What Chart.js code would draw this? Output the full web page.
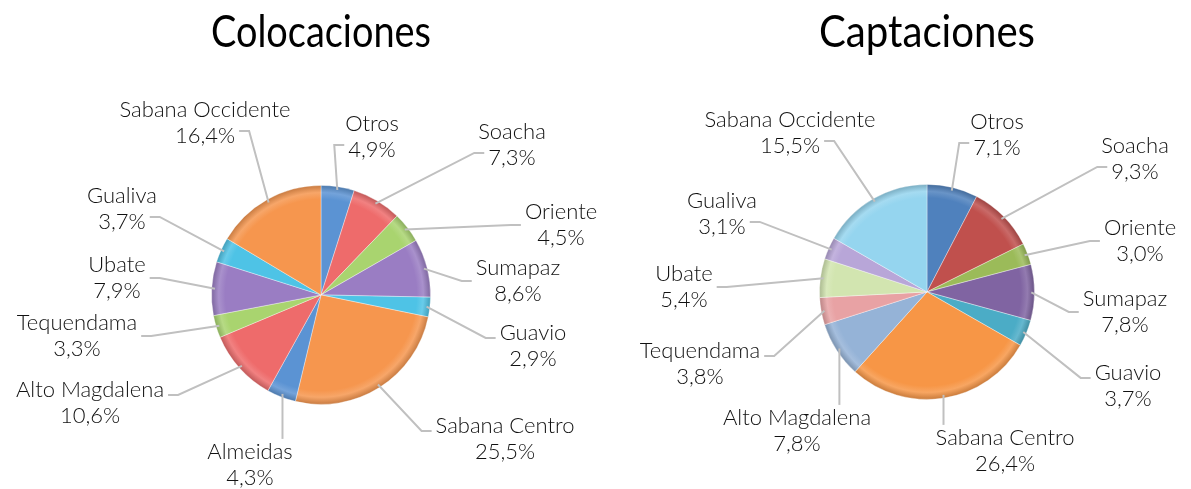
<!DOCTYPE html>
<html>
<head>
<meta charset="utf-8">
<script src="https://cdn.jsdelivr.net/npm/chart.js@4"></script>
<style>
  body { margin: 0; background: #fff; }
  #wrap { position: relative; width: 1191px; height: 489px; }
  canvas { position: absolute; top: 0; }
  #colChart { left: 0; }
  #capChart { left: 600px; }
</style>
</head>
<body>
<div id="wrap">
  <canvas id="colChart" width="600" height="489"></canvas>
  <canvas id="capChart" width="591" height="489"></canvas>
</div>
<script>
// Colocaciones
const colNames = ['Otros', 'Soacha', 'Oriente', 'Sumapaz', 'Guavio', 'Sabana Centro', 'Almeidas',
    'Alto Magdalena', 'Tequendama', 'Ubate', 'Gualiva', 'Sabana Occidente'];
const colValues = [4.9, 7.3, 4.5, 8.6, 2.9, 25.5, 4.3, 10.6, 3.3, 7.9, 3.7, 16.4];

// Captaciones
const capNames = ['Otros', 'Soacha', 'Oriente', 'Sumapaz', 'Guavio', 'Sabana Centro',
    'Alto Magdalena', 'Tequendama', 'Ubate', 'Gualiva', 'Sabana Occidente'];
const capValues = [7.1, 9.3, 3.0, 7.8, 3.7, 26.4, 7.8, 3.8, 5.4, 3.1, 15.5];

// Slice colours
const colColors = ['#5b93d3', '#ee6b6b', '#a9d46f', '#9a7dc3', '#4ec3e6', '#f6964e',
    '#5b93d3', '#ee6b6b', '#a9d46f', '#9a7dc3', '#4ec3e6', '#f6964e'];
const capColors = ['#4f81bd', '#c0504d', '#9bbb59', '#8064a2', '#4bacc6', '#f79646',
    '#95b3d7', '#e8a2a4', '#d2e5b0', '#b8a6d8', '#95d5ef'];

// Label block centres, relative to the pie centre
const colLabelOffsets = [[51, -158], [191, -150], [240, -70], [197, -14], [212, 51], [184, 144],
    [-71, 170], [-231, 108], [-244, 41], [-204, -17], [-199, -86], [-116, -172]];
const capLabelOffsets = [[70, -157], [208, -133], [213, -51], [198, 20], [201, 94], [78, 159],
    [-130, 139], [-227, 72], [-243, -5], [-205, -78], [-137, -159]];

const FONT = 'Lato, "Open Sans", sans-serif';

function shade(hex, f) {
    const n = parseInt(hex.slice(1), 16);
    let r = n >> 16, g = (n >> 8) & 255, b = n & 255;
    if (f > 0) {
        r += (255 - r) * f; g += (255 - g) * f; b += (255 - b) * f;
    } else {
        r *= 1 + f; g *= 1 + f; b *= 1 + f;
    }
    return `rgb(${Math.round(r)},${Math.round(g)},${Math.round(b)})`;
}

// Radial gradient to fake the bevelled rim
function bevel(c, colors) {
    const base = colors[c.dataIndex];
    const area = c.chart.chartArea;
    if (!area) return base;
    const cx = (area.left + area.right) / 2;
    const cy = (area.top + area.bottom) / 2;
    const r = Math.min(area.right - area.left, area.bottom - area.top) / 2;
    const g = c.chart.ctx.createRadialGradient(cx, cy, 0, cx, cy, r);
    g.addColorStop(0, base);
    g.addColorStop(0.87, base);
    g.addColorStop(0.93, shade(base, 0.15));
    g.addColorStop(1, shade(base, -0.2));
    return g;
}

function fmt(v) {
    return v.toFixed(1).replace('.', ',') + '%';
}

// Two-line labels with leader lines
const leaderLabels = {
    id: 'leaderLabels',
    afterDatasetsDraw(chart, args, opts) {
        const ctx = chart.ctx;
        const meta = chart.getDatasetMeta(0);
        const values = chart.data.datasets[0].data;
        ctx.save();
        ctx.font = '300 22px ' + FONT;
        ctx.textAlign = 'center';
        ctx.textBaseline = 'middle';
        meta.data.forEach((arc, i) => {
            const p = arc.getProps(['x', 'y', 'startAngle', 'endAngle', 'outerRadius'], true);
            const mid = (p.startAngle + p.endAngle) / 2;
            const ax = p.x + Math.cos(mid) * p.outerRadius * 0.97;
            const ay = p.y + Math.sin(mid) * p.outerRadius * 0.97;
            const lx = p.x + opts.offsets[i][0];
            const ly = p.y + opts.offsets[i][1];
            const name = chart.data.labels[i];
            const val = fmt(values[i]);
            const w1 = ctx.measureText(name).width;
            const w2 = ctx.measureText(val).width;
            // width of the text line nearest to the slice
            let w = Math.max(w1, w2), ey = ly;
            if (ay > ly + 26) { w = w2; ey = ly + 8; }
            else if (ay < ly - 26) { w = w1; ey = ly - 8; }
            let pts;
            if (ax > lx - w / 2 && ax < lx + w / 2) {
                const vy = ay < ly ? ly - 26 : ly + 26;
                pts = [[ax, vy], [ax, ay]];
            } else {
                const side = ax > lx ? 1 : -1;
                const ex = lx + side * (w / 2 + 4);
                pts = [[ex, ey], [ex + side * 10, ey], [ax, ay]];
            }
            ctx.strokeStyle = '#c0c0c0';
            ctx.lineWidth = 2;
            ctx.beginPath();
            ctx.moveTo(pts[0][0], pts[0][1]);
            for (let k = 1; k < pts.length; k++) ctx.lineTo(pts[k][0], pts[k][1]);
            ctx.stroke();
            ctx.fillStyle = '#111';
            ctx.fillText(name, lx, ly - 13);
            ctx.fillText(val, lx, ly + 13);
        });
        ctx.restore();
    }
};

function makePie(id, title, names, values, colors, offsets, pad, titleBottom) {
    return new Chart(document.getElementById(id), {
        type: 'pie',
        data: {
            labels: names,
            datasets: [{
                data: values,
                backgroundColor: c => bevel(c, colors),
                borderColor: 'rgba(255,255,255,0.35)',
                borderWidth: 1
            }]
        },
        options: {
            responsive: false,
            animation: false,
            layout: { padding: pad },
            plugins: {
                legend: { display: false },
                tooltip: { enabled: false },
                title: {
                    display: true,
                    text: title,
                    color: '#000',
                    font: { family: FONT, size: 44, weight: 'normal' },
                    padding: { top: 6, bottom: titleBottom }
                },
                leaderLabels: { offsets: offsets }
            }
        },
        plugins: [leaderLabels]
    });
}

makePie('colChart', 'Colocaciones', colNames, colValues, colColors, colLabelOffsets,
    { left: 211, right: 169, top: 0, bottom: 84 }, 126);
makePie('capChart', 'Captaciones', capNames, capValues, capColors, capLabelOffsets,
    { left: 219, right: 156, top: 0, bottom: 89 }, 125);
</script>
</body>
</html>
